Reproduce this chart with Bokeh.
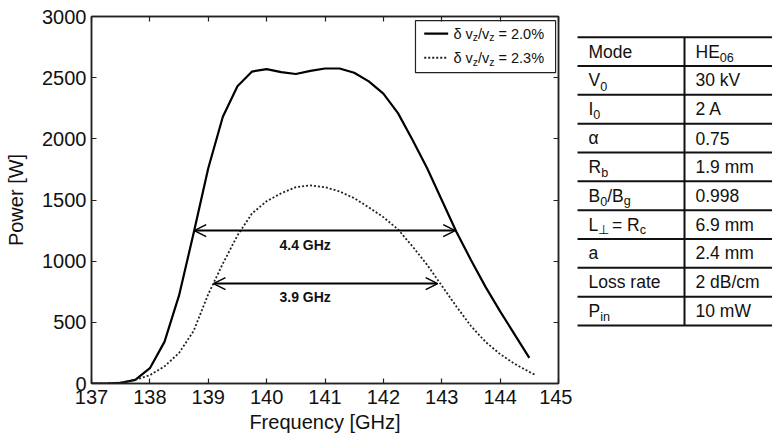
import re
from bokeh.plotting import figure
from bokeh.models import (ColumnDataSource, FixedTicker, LinearAxis, Arrow, OpenHead,
                          Range1d, CustomJSTickFormatter)
from bokeh.layouts import row
from bokeh.core.properties import value
from bokeh.embed import file_html
from bokeh.resources import INLINE

# ---------------- data ----------------
freq_a = [137.0, 137.25, 137.5, 137.75, 138.0, 138.25, 138.5, 138.75, 139.0, 139.25,
          139.5, 139.75, 140.0, 140.25, 140.5, 140.75, 141.0, 141.25, 141.5, 141.75,
          142.0, 142.25, 142.5, 142.75, 143.0, 143.25, 143.5, 143.75, 144.0, 144.25, 144.5]
power_a = [0, 0, 5, 30, 125, 340, 720, 1230, 1760, 2180,
           2430, 2550, 2570, 2545, 2530, 2555, 2575, 2575, 2540, 2470,
           2370, 2210, 1990, 1760, 1500, 1240, 1010, 790, 590, 400, 210]

freq_b = [137.0, 137.25, 137.5, 137.75, 138.0, 138.25, 138.5, 138.75, 139.0, 139.25,
          139.5, 139.75, 140.0, 140.25, 140.5, 140.75, 141.0, 141.25, 141.5, 141.75,
          142.0, 142.25, 142.5, 142.75, 143.0, 143.25, 143.5, 143.75, 144.0, 144.25, 144.5, 144.6]
power_b = [0, 0, 8, 30, 68, 140, 250, 430, 730, 980,
           1210, 1390, 1490, 1555, 1605, 1620, 1605, 1570, 1515, 1440,
           1360, 1260, 1120, 970, 800, 630, 470, 340, 240, 160, 95, 70]

legend_labels = ["δ v_{z}/v_{z} = 2.0%", "δ v_{z}/v_{z} = 2.3%"]

arrow_y = [1250, 817]
arrow_x0 = [138.76, 139.09]
arrow_x1 = [143.23, 142.93]
arrow_labels = ["4.4 GHz", "3.9 GHz"]
arrow_label_x = [140.66, 140.66]
arrow_label_y = [1136, 703]

x_ticks = [137, 138, 139, 140, 141, 142, 143, 144, 145]
y_ticks = [0, 500, 1000, 1500, 2000, 2500, 3000]

table_col1 = ["Mode", "V_{0}", "I_{0}", "α", "R_{b}", "B_{0}/B_{g}", "L_{⊥} = R_{c}",
              "a", "Loss rate", "P_{in}"]
table_col2 = ["HE_{06}", "30 kV", "2 A", "0.75", "1.9 mm", "0.998", "6.9 mm",
              "2.4 mm", "2 dB/cm", "10 mW"]

FONT = "Liberation Sans"

# approximate Arial advance widths (em/1000)
W = {' ': 278, '%': 889, '.': 278, '/': 278, '=': 584, 'A': 667, 'B': 667, 'C': 722,
     'E': 667, 'H': 722, 'I': 278, 'L': 556, 'M': 833, 'P': 667, 'R': 722, 'V': 667,
     'W': 944, 'a': 556, 'b': 556, 'c': 500, 'd': 556, 'e': 556, 'g': 556, 'i': 222,
     'k': 500, 'l': 222, 'm': 833, 'n': 556, 'o': 556, 'r': 333, 's': 500, 't': 278,
     'v': 500, 'z': 500, 'δ': 556, 'α': 578, '⊥': 700}


def tw(s, size):
    return sum(W.get(c, 556) for c in s) / 1000.0 * size


def parse(s):
    segs = []
    pos = 0
    for m in re.finditer(r"_\{([^}]*)\}", s):
        if m.start() > pos:
            segs.append((s[pos:m.start()], False))
        segs.append((m.group(1), True))
        pos = m.end()
    if pos < len(s):
        segs.append((s[pos:], False))
    return segs


def compose(x, y, s, size, out, sub_scale=0.72, drop=0.3):
    off = 0.0
    for txt, sub in parse(s):
        fs = size * sub_scale if sub else size
        stripped = txt.lstrip(" ")
        lead = len(txt) - len(stripped)
        body = stripped.rstrip(" ")
        if body:
            out["x"].append(x)
            out["y"].append(y)
            out["text"].append(body)
            out["xo"].append(off + tw(" " * lead, fs))
            out["yo"].append(size * drop if sub else 0)
            out["fs"].append("%.1fpx" % fs)
        off += tw(txt, fs)


def empty():
    return {"x": [], "y": [], "text": [], "xo": [], "yo": [], "fs": []}


# ---------------- main plot ----------------
p = figure(width=572, height=443, x_range=Range1d(137, 145), y_range=Range1d(0, 3000),
           output_backend="svg", toolbar_location=None,
           min_border_left=91, min_border_right=14, min_border_top=16, min_border_bottom=60)
p.background_fill_color = "white"
p.border_fill_color = "white"
p.outline_line_color = "#222222"
p.outline_line_width = 1.5
p.xgrid.visible = False
p.ygrid.visible = False

AX_COLOR = "#222222"


def style_axis(ax, ticks, labels=True):
    ax.ticker = FixedTicker(ticks=ticks)
    ax.axis_line_color = AX_COLOR
    ax.axis_line_width = 1.5
    ax.major_tick_line_color = AX_COLOR
    ax.major_tick_line_width = 1.2
    ax.major_tick_in = 5
    ax.major_tick_out = 0
    ax.minor_tick_line_color = None
    ax.major_label_text_font = FONT
    ax.major_label_text_font_size = "20px"
    ax.major_label_text_color = "#111111"
    ax.axis_label_text_font = FONT
    ax.axis_label_text_font_size = "20px"
    ax.axis_label_text_font_style = "normal"
    ax.axis_label_text_color = "#111111"
    if not labels:
        ax.formatter = CustomJSTickFormatter(code="return ''")
        ax.major_label_standoff = 0


style_axis(p.xaxis[0], x_ticks)
style_axis(p.yaxis[0], y_ticks)
p.xaxis[0].axis_label = "Frequency [GHz]"
p.yaxis[0].axis_label = "Power [W]"
p.xaxis[0].major_label_standoff = 6
p.xaxis[0].axis_label_standoff = 4
p.yaxis[0].major_label_standoff = 5
p.yaxis[0].axis_label_standoff = 12

top_ax = LinearAxis()
style_axis(top_ax, x_ticks, labels=False)
p.add_layout(top_ax, "above")
right_ax = LinearAxis()
style_axis(right_ax, y_ticks, labels=False)
p.add_layout(right_ax, "right")

p.line(freq_a, power_a, line_color="black", line_width=2.2)
p.line(freq_b, power_b, line_color="#222222", line_width=1.8, line_dash="2 2")

# arrows
asrc = ColumnDataSource(dict(x0=arrow_x0, x1=arrow_x1, y=arrow_y))
p.add_layout(Arrow(start=OpenHead(size=12, line_width=1.5, line_color="black"),
                   end=OpenHead(size=12, line_width=1.5, line_color="black"),
                   x_start="x0", y_start="y", x_end="x1", y_end="y", source=asrc,
                   line_width=2, line_color="black"))
p.text(x=arrow_label_x, y=arrow_label_y, text=arrow_labels, text_font=value(FONT),
       text_font_size="14px", text_font_style="bold", text_align="center",
       text_baseline="middle", text_color="#111111")

# legend box
p.quad(left=[142.55], right=[144.95], bottom=[2541], top=[2966],
       fill_color="white", line_color="#222222", line_width=1.2)
p.segment(x0=[142.70], x1=[143.11], y0=[2860], y1=[2860], line_color="black", line_width=2.2)
p.segment(x0=[142.70], x1=[143.11], y0=[2663], y1=[2663], line_color="#222222",
          line_width=1.8, line_dash="2 2")
leg = empty()
compose(143.2, 2860, legend_labels[0], 14.5, leg)
compose(143.2, 2663, legend_labels[1], 14.5, leg)
p.text(x="x", y="y", text="text", x_offset="xo", y_offset="yo", text_font_size="fs",
       source=ColumnDataSource(leg), text_font=value(FONT), text_baseline="middle",
       text_align="left", text_color="#111111")

# ---------------- table ----------------
t = figure(width=200, height=443, x_range=Range1d(0, 200), y_range=Range1d(443, 0),
           output_backend="svg", toolbar_location=None,
           min_border=0, min_border_left=0, min_border_right=0,
           min_border_top=0, min_border_bottom=0)
t.axis.visible = False
t.xgrid.visible = False
t.ygrid.visible = False
t.outline_line_color = None
t.background_fill_color = "white"
t.border_fill_color = "white"

n_rows = len(table_col1)
top, bottom = 25.0, 373.0
rh = (bottom - top) / n_rows
ys = [top + i * rh for i in range(n_rows + 1)]
t.segment(x0=[5] * len(ys), x1=[200] * len(ys), y0=ys, y1=ys, line_color="#111111",
          line_width=2)
t.segment(x0=[112], x1=[112], y0=[top], y1=[bottom], line_color="#111111", line_width=2)

tab = empty()
for i in range(n_rows):
    yc = top + (i + 0.5) * rh
    compose(16, yc, table_col1[i], 17.5, tab, sub_scale=0.72, drop=0.32)
    compose(123, yc, table_col2[i], 17.5, tab, sub_scale=0.72, drop=0.32)
t.text(x="x", y="y", text="text", x_offset="xo", y_offset="yo", text_font_size="fs",
       source=ColumnDataSource(tab), text_font=value(FONT), text_baseline="middle",
       text_align="left", text_color="#111111")

layout = row(p, t)
open("out.html", "w").write(file_html(layout, INLINE))
